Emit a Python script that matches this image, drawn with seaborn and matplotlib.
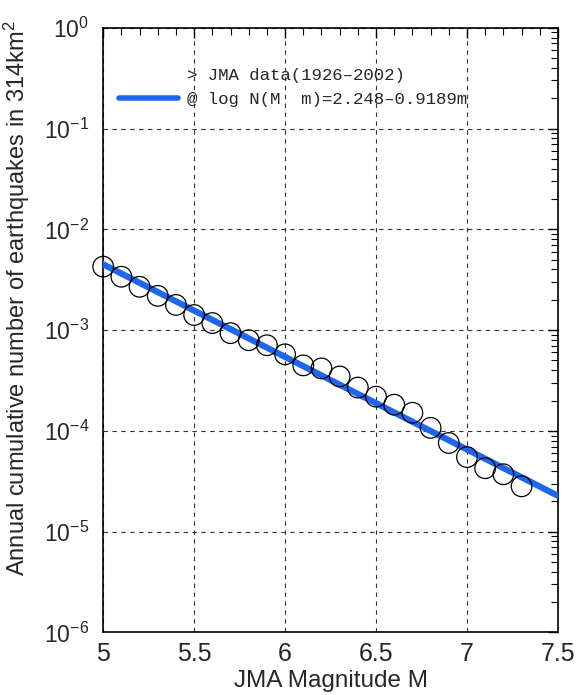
import numpy as np
import pandas as pd
import matplotlib
matplotlib.use("Agg")
import matplotlib.pyplot as plt
import matplotlib.ticker as mticker
from matplotlib.lines import Line2D
import seaborn as sns

# ── Data ──────────────────────────────────────────────────────────────────────
magnitude = [5.0, 5.1, 5.2, 5.3, 5.4, 5.5, 5.6, 5.7, 5.8, 5.9, 6.0, 6.1,
             6.2, 6.3, 6.4, 6.5, 6.6, 6.7, 6.8, 6.9, 7.0, 7.1, 7.2, 7.3]
log_count = [-2.37, -2.47, -2.57, -2.66, -2.75, -2.85, -2.93, -3.03, -3.10,
             -3.15, -3.24, -3.35, -3.38, -3.46, -3.57, -3.66, -3.74, -3.82,
             -3.97, -4.12, -4.26, -4.37, -4.43, -4.55]
fit_m = [5.0, 7.5]
fit_n = [4.5e-3, 2.27e-5]

obs = pd.DataFrame({"m": magnitude, "n": np.power(10.0, log_count)})
fit = pd.DataFrame({"m": fit_m, "n": fit_n})

BLUE = "#1f66ee"

# ── Style ─────────────────────────────────────────────────────────────────────
sns.set_style("white")
plt.rcParams.update({
    "font.family": ["Liberation Sans", "DejaVu Sans"],
    "mathtext.fontset": "custom",
    "mathtext.rm": "Liberation Sans",
    "mathtext.it": "Liberation Sans",
    "axes.edgecolor": "black",
    "axes.linewidth": 1.2,
    "xtick.direction": "in",
    "ytick.direction": "in",
})

fig, ax = plt.subplots(figsize=(5.83, 6.95), dpi=100)
fig.subplots_adjust(left=0.177, right=0.957, top=0.96, bottom=0.09)

sns.lineplot(data=fit, x="m", y="n", ax=ax, color=BLUE, linewidth=4.5, zorder=3)
sns.scatterplot(data=obs, x="m", y="n", ax=ax, s=220, facecolor="none",
                edgecolor="black", linewidth=0.9, zorder=4, clip_on=False)

ax.set_yscale("log")
ax.set_xlim(5, 7.5)
ax.set_ylim(1e-6, 1)
ax.xaxis.set_major_locator(mticker.MultipleLocator(0.5))
ax.xaxis.set_minor_locator(mticker.MultipleLocator(0.1))
ax.xaxis.set_major_formatter(mticker.FormatStrFormatter("%g"))
ax.yaxis.set_major_locator(mticker.LogLocator(base=10, numticks=10))
ax.yaxis.set_minor_locator(mticker.LogLocator(base=10, subs=np.arange(2, 10), numticks=10))
ax.yaxis.set_minor_formatter(mticker.NullFormatter())

ax.tick_params(which="both", top=True, right=True, color="black")
ax.tick_params(which="major", length=7, width=1)
ax.tick_params(which="minor", length=5, width=0.8)
ax.tick_params(axis="x", which="major", labelsize=18, pad=7)
ax.tick_params(axis="y", which="major", labelsize=16.5, pad=10)

ax.grid(True, which="major", color="black", linestyle=(0, (4, 4)), linewidth=0.8, alpha=0.8)

ax.set_xlabel("JMA Magnitude M", fontsize=17.5, va="baseline")
ax.set_ylabel("Annual cumulative number of earthquakes in 314km$^2$", fontsize=17)
ax.xaxis.set_label_coords(0.5, -0.09)
ax.yaxis.set_label_coords(-0.156, 0.552)

handles = [Line2D([], [], linestyle="none"),
           Line2D([], [], color=BLUE, linewidth=4)]
labels = ["> JMA data(1926–2002)", "@ log N(M  m)=2.248–0.9189m"]
ax.legend(handles, labels, loc="upper left", bbox_to_anchor=(0.0, 0.96),
          frameon=False, handlelength=3.4, handletextpad=0.55, labelspacing=0.5,
          prop={"family": "Liberation Mono", "size": 12.5})

plt.savefig("out.png", dpi=100)
plt.close()
